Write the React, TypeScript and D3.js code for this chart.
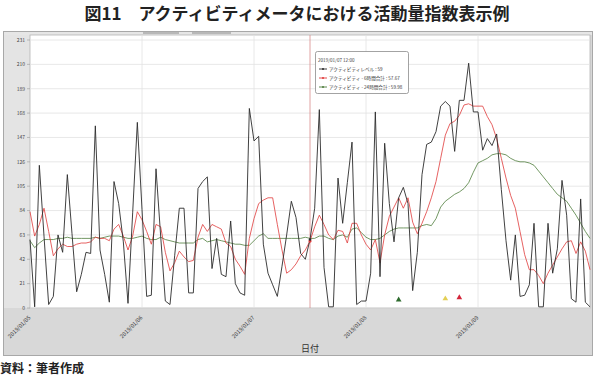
import * as d3 from 'd3'

// hourly readings, 2019/01/05 00:00 .. 2019/01/10 00:00
const startTime = new Date(2019, 0, 5, 0, 0)
const endTime = new Date(2019, 0, 10, 0, 0)

const dayLabels = ['2019/01/05', '2019/01/06', '2019/01/07', '2019/01/08', '2019/01/09']
const yTickValues = [0, 21, 42, 63, 84, 105, 126, 147, 168, 189, 210, 231]

const activityLevel = [
  59, 1, 123, 62, 3, 10, 63, 48, 115, 64, 14, 29, 48, 47, 157, 50, 29, 5, 109, 90, 57, 4, 82, 160,
  85, 10, 11, 120, 62, 6, 3, 45, 86, 86, 13, 13, 103, 109, 113, 34, 60, 29, 27, 75, 21, 13, 11, 172,
  144, 148, 55, 30, 20, 10, 36, 63, 92, 78, 47, 42, 59, 86, 171, 35, 1, 1, 112, 73, 108, 143, 3, 6,
  6, 30, 169, 27, 142, 90, 57, 95, 104, 90, 15, 48, 115, 141, 143, 152, 174, 178, 174, 135, 179, 179,
  211, 169, 169, 136, 146, 140, 150, 102, 58, 24, 63, 10, 11, 20, 73, 1, 1, 73, 30, 51, 110, 80, 8, 5,
  94, 5, 1,
]

const activity6h = [
  83, 62, 72, 86, 66, 45, 51, 55, 53, 53, 55, 56, 56, 57, 61, 60, 60, 58, 68, 72, 62, 50, 62, 83,
  76, 66, 55, 72, 70, 48, 32, 39, 49, 44, 40, 41, 61, 72, 66, 72, 70, 68, 56, 53, 42, 36, 29, 60,
  77, 90, 93, 95, 95, 72, 50, 30, 33, 38, 45, 50, 57.67, 70, 80, 72, 63, 59, 67, 66, 56, 73, 73, 63,
  55, 50, 59, 39, 63, 79, 87, 95, 86, 95, 74, 64, 73, 83, 95, 109, 129, 149, 159, 161, 166, 175,
  176, 174, 174, 174, 165, 158, 146, 129, 112, 97, 86, 66, 46, 33, 33, 28, 21, 30, 37, 44, 51, 57, 58, 47,
  57, 49, 33,
]

const activity24h = [
  58, 52, 56, 59, 59, 59, 60, 60, 61, 60, 60, 60, 60, 60, 61, 60, 61, 62, 62, 62, 61, 60, 60, 61,
  62, 60, 59, 59, 61, 59, 58, 57, 56, 56, 56, 56, 59, 60, 57, 58, 59, 58, 57, 56, 55, 55, 54, 54,
  58, 62, 64, 60, 60, 60, 60, 60, 60, 60, 60, 61, 59.98, 60, 62, 62, 60, 59, 62, 63, 61, 68, 69, 65,
  61, 59, 59, 60, 63, 66, 68, 69, 69, 69, 69, 69, 71, 72, 71, 77, 87, 92, 95, 98, 100, 103,
  108, 117, 125, 127, 129, 132, 133, 133, 132, 129, 127, 126, 126, 125, 123, 118, 113, 108, 103, 98, 95, 92, 86, 80,
  73, 66, 60,
]

// alert markers near the bottom
const alertHours = [79, 89, 92]
const alertValues = [7, 8, 9]
const alertColors = ['#2d6a2d', '#e3cf55', '#d3253a']

const cursorHour = 60
const tooltipDate = '2019/01/07 12:00'
const tooltipLabels = ['アクティビティレベル : 59', 'アクティビティ - 6時間合計 : 57.67', 'アクティビティ - 24時間合計 : 59.98']
const seriesColors = ['#2b2b2b', '#e03a3a', '#4f7d3c']

const jp = "'Noto Sans CJK JP', 'Noto Sans', sans-serif"

export default function App() {
  const width = 595
  const height = 375
  const plot = { left: 30, right: 590, top: 35, bottom: 308 }

  const x = d3.scaleTime().domain([startTime, endTime]).range([plot.left, plot.right])
  const y = d3.scaleLinear().domain([0, 231]).range([plot.bottom, 40])
  const hourTime = (i: number) => d3.timeHour.offset(startTime, i)
  const parseDay = d3.timeParse('%Y/%m/%d')

  const line = d3.line<number>()
    .x((_d, i) => x(hourTime(i)))
    .y(d => y(d))

  const series = [activityLevel, activity6h, activity24h]
  const cursorX = x(hourTime(cursorHour))
  const tri = d3.symbol().type(d3.symbolTriangle).size(14)

  return (
    <div style={{ position: 'fixed', left: 0, top: 0 }}>
      <svg width={width} height={height} style={{ display: 'block', background: '#fff' }}>
        <text x={297} y={20} textAnchor="middle" fontFamily={jp} fontWeight="bold" fontSize={17} fill="#222">
          図11　アクティビティメータにおける活動量指数表示例
        </text>

        {/* panel */}
        <rect x={3.5} y={31.5} width={589} height={324} fill="#d8d8d8" stroke="#a8a8a8" />
        <rect x={4} y={32} width={588} height={3} fill="#e6e6e6" />
        <line x1={143} x2={179} y1={33} y2={33} stroke="#8a8a8a" strokeWidth={1} />
        <line x1={192} x2={231} y1={33} y2={33} stroke="#8a8a8a" strokeWidth={1} />
        <rect x={4} y={35} width={26} height={273} fill="#e4e4e4" />
        <rect x={plot.left} y={plot.top} width={plot.right - plot.left} height={plot.bottom - plot.top} fill="#fff" stroke="#b4b4b4" strokeWidth={0.8} />

        {/* grid */}
        {yTickValues.map(v => (
          <g key={v}>
            <line x1={plot.left} x2={plot.right} y1={y(v)} y2={y(v)} stroke="#e2e2e2" strokeWidth={0.8} />
            <line x1={27} x2={plot.left} y1={y(v)} y2={y(v)} stroke="#999" strokeWidth={0.6} />
            <text x={25} y={y(v) + 1.8} textAnchor="end" fontFamily={jp} fontSize={5} fill="#444">{v}</text>
          </g>
        ))}
        {dayLabels.map(d => {
          const px = x(parseDay(d) as Date)
          return (
            <g key={d}>
              {px > plot.left + 1 && <line x1={px} x2={px} y1={plot.top} y2={plot.bottom} stroke="#e2e2e2" strokeWidth={0.8} />}
              <text transform={`translate(${px + 1},${plot.bottom + 10}) rotate(-45)`} textAnchor="end" fontFamily={jp} fontSize={5.6} fill="#444">{d}</text>
            </g>
          )
        })}
        <text x={310} y={352} textAnchor="middle" fontFamily={jp} fontSize={9} fill="#333">日付</text>

        {/* cursor */}
        <line x1={cursorX} x2={cursorX} y1={plot.top} y2={plot.bottom} stroke="#d88a8a" strokeWidth={0.8} />

        {/* series, drawn back to front */}
        {[2, 1, 0].map(k => (
          <path key={k} d={line(series[k]) ?? ''} fill="none" stroke={seriesColors[k]} strokeWidth={k === 0 ? 0.9 : 0.8} strokeLinejoin="round" />
        ))}
        <circle cx={cursorX} cy={y(activity6h[cursorHour])} r={1.6} fill="#e03a3a" />
        <circle cx={cursorX} cy={y(activityLevel[cursorHour])} r={1.3} fill="#2b2b2b" />

        {alertHours.map((h, i) => (
          <path key={h} d={tri() ?? ''} transform={`translate(${x(hourTime(h))},${y(alertValues[i])})`} fill={alertColors[i]} />
        ))}

        {/* tooltip */}
        <g>
          <rect x={315.5} y={51.5} width={93} height={42} rx={2} fill="#fff" stroke="#8c8c8c" strokeWidth={0.8} />
          <text x={318} y={61.5} fontFamily={jp} fontSize={4.6} fill="#444">{tooltipDate}</text>
          {tooltipLabels.map((label, i) => {
            const ly = 69 + i * 9
            return (
              <g key={label}>
                <line x1={319} x2={327} y1={ly} y2={ly} stroke={seriesColors[i]} strokeWidth={0.9} />
                <circle cx={323} cy={ly} r={1} fill={seriesColors[i]} />
                <text x={329} y={ly + 1.6} fontFamily={jp} fontSize={4.6} fill="#333">{label}</text>
              </g>
            )
          })}
        </g>

        <text x={0} y={373} fontFamily={jp} fontWeight="bold" fontSize={12} fill="#222">資料：筆者作成</text>
      </svg>
    </div>
  )
}
